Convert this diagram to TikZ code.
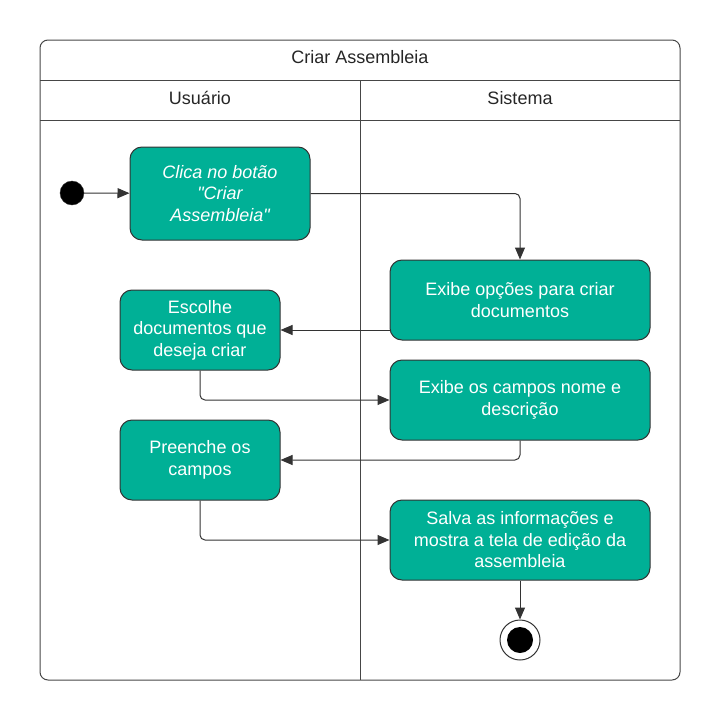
\documentclass[tikz,border=0pt]{standalone}
\usepackage{fontspec}
\setmainfont{Liberation Sans}
\usetikzlibrary{arrows.meta}
\definecolor{actfill}{RGB}{0,176,150}
\definecolor{lineg}{RGB}{51,51,51}
\definecolor{frameg}{RGB}{70,70,70}
\tikzset{
  act/.style={draw=lineg, line width=1pt, fill=actfill, rounded corners=12pt, text=white,
    align=center, inner sep=0pt, font=\fontsize{18}{21.5}\selectfont},
  flow/.style={draw=lineg, line width=1pt, rounded corners=5pt,
    -{Triangle[length=12pt,width=10pt]}},
  lane/.style={font=\fontsize{18}{21}\selectfont, text=black!85},
}

\begin{document}
\begin{tikzpicture}[x=1pt,y=-1pt]
    \useasboundingbox (0,0) rectangle (720,720);
    %Frame and swimlanes
    \draw[frameg, line width=1pt, rounded corners=8pt] (40,40) rectangle (680,680);
    \draw[frameg, line width=1pt] (40,80) -- (680,80);
    \draw[frameg, line width=1pt] (40,120) -- (680,120);
    \draw[frameg, line width=1pt] (360,80) -- (360,680);
    %Lane titles
    \node[lane] (title) at (360,57) {Criar Assembleia};
    \node[lane] (user) at (200,98) {Usuário};
    \node[lane] (sys) at (520,98) {Sistema};
    %Start and end
    \node[circle, draw=lineg, fill=black, minimum size=24pt, inner sep=0pt] (start) at (72,193) {};
    \node[circle, draw=lineg, line width=1pt, fill=white, minimum size=40pt, inner sep=0pt] (stop) at (520,640) {};
    \fill[black] (stop.center) circle (13pt);
    %Activities
    \node[act, minimum width=180pt, minimum height=93pt] (click) at (220,193.5)
      {\itshape Clica no botão\\\itshape \textquotedbl Criar\\\itshape Assembleia\textquotedbl};
    \node[act, minimum width=260pt, minimum height=80pt] (opts) at (520,300)
      {Exibe opções para criar\\documentos};
    \node[act, minimum width=160pt, minimum height=80pt] (choose) at (200,330)
      {Escolhe\\documentos que\\deseja criar};
    \node[act, minimum width=260pt, minimum height=80pt] (fields) at (520,400)
      {Exibe os campos nome e\\descrição};
    \node[act, minimum width=160pt, minimum height=80pt] (fill) at (200,460)
      {Preenche os\\campos};
    \node[act, minimum width=260pt, minimum height=80pt] (save) at (520,540)
      {Salva as informações e\\mostra a tela de edição da\\assembleia};
    %Flows
    \draw[flow] (start) -- (click);
    \draw[flow] (click.east) -| (opts.north);
    \draw[flow] (opts.west |- choose.east) -- (choose.east);
    \draw[flow] (choose.south) |- (fields.west);
    \draw[flow] (fields.south) |- (fill.east);
    \draw[flow] (fill.south) |- (save.west);
    \draw[flow] (save.south) -- (stop.north);
\end{tikzpicture}
\end{document}
